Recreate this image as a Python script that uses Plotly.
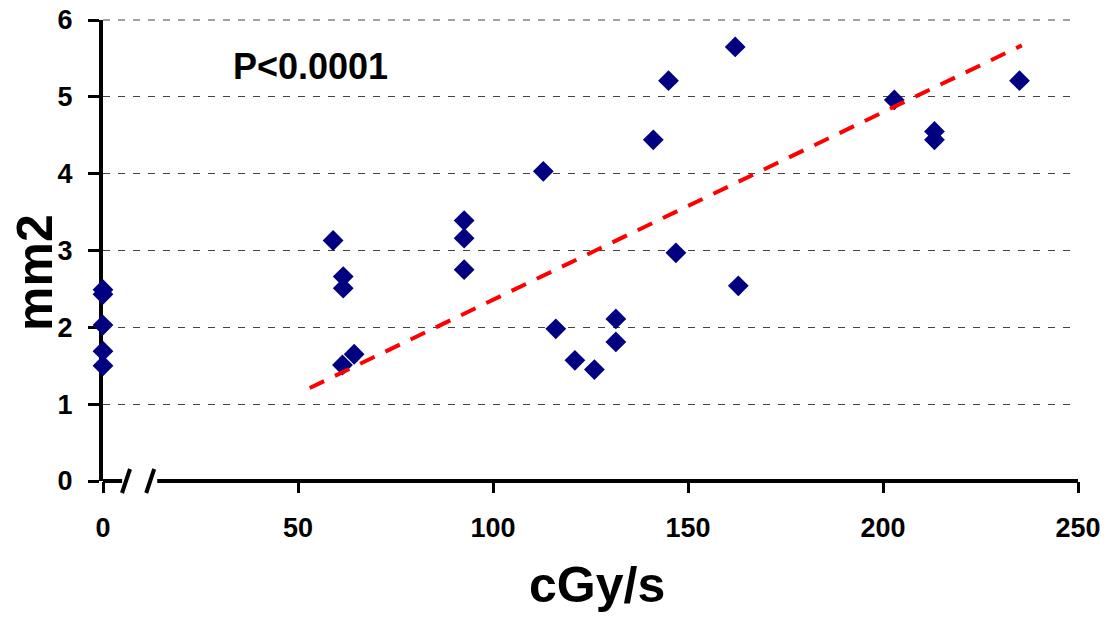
import plotly.graph_objects as go

# ---- data ----
dose_rate = [0, 0, 0, 0, 0,
             59.0, 61.6, 61.6, 61.4, 64.4,
             92.6, 92.6, 92.6, 112.9, 116.1, 121.0, 126.0,
             131.5, 131.5, 141.1, 145.0, 146.9, 162.1, 162.9,
             202.9, 213.2, 213.2, 235.0]
area_mm2 = [2.49, 2.43, 2.03, 1.69, 1.50,
            3.13, 2.66, 2.51, 1.51, 1.65,
            3.39, 3.16, 2.75, 4.03, 1.98, 1.57, 1.45,
            2.11, 1.81, 4.44, 5.21, 2.97, 5.65, 2.54,
            4.96, 4.55, 4.44, 5.21]
trend_x = [53.0, 235.6]
trend_y = [1.21, 5.67]

x_ticks = [0, 50, 100, 150, 200, 250]
y_ticks = [0, 1, 2, 3, 4, 5, 6]
x_range = [0, 250]
y_range = [0, 6]

# axis break (in x data units)
break_end = 4.9
break_start = 13.9
slash_x = [5.9, 12.1]

FONT = "Liberation Sans, Arial, sans-serif"
GRID = "#444444"

# page body has an 8px margin; shift the layout so the plot lands where the reference has it
L, T, PW, PH = 95, 12, 975, 461


def xp(v):
    """x data value -> paper fraction"""
    return (v - x_range[0]) / (x_range[1] - x_range[0])


def yp(v):
    return (v - y_range[0]) / (y_range[1] - y_range[0])


fig = go.Figure()
fig.add_trace(go.Scatter(
    x=dose_rate, y=area_mm2, mode="markers",
    marker=dict(symbol="diamond", size=16, color="#000080", line=dict(width=0)),
    cliponaxis=False, showlegend=False))
fig.add_trace(go.Scatter(
    x=trend_x, y=trend_y, mode="lines",
    line=dict(color="#FF0000", width=4, dash="16px,12px"),
    showlegend=False))

shapes = []
# top gridline (plotly omits the one at the range edge)
shapes.append(dict(type="line", xref="paper", yref="paper", x0=0, x1=1,
                   y0=yp(y_ticks[-1]), y1=yp(y_ticks[-1]),
                   line=dict(color=GRID, width=1, dash="7px,8px"), layer="below"))
# broken x axis line
shapes.append(dict(type="line", xref="paper", yref="paper", x0=xp(break_end), x1=xp(break_start),
                   y0=0, y1=0, line=dict(color="white", width=5), layer="above"))
for a, b in [(x_range[0], break_end), (break_start, x_range[1])]:
    shapes.append(dict(type="line", xref="paper", yref="paper", x0=xp(a), x1=xp(b), y0=0, y1=0,
                       line=dict(color="black", width=4), layer="above"))
for sx in slash_x:
    shapes.append(dict(type="line", xref="paper", yref="paper", xsizemode="pixel",
                       ysizemode="pixel", xanchor=xp(sx), yanchor=0,
                       x0=-4, x1=4, y0=-12, y1=12,
                       line=dict(color="black", width=4), layer="above"))


def px_x(p):
    return (p - 103) / PW


def px_y(p):
    return (481 - p) / PH


fig.update_layout(
    width=1112, height=618,
    margin=dict(l=L, r=1112 - L - PW, t=T, b=618 - T - PH, autoexpand=False),
    paper_bgcolor="white", plot_bgcolor="white",
    font=dict(family=FONT, color="black"),
    shapes=shapes,
    xaxis=dict(range=x_range, tickvals=x_ticks, ticktext=[str(v) for v in x_ticks],
               showline=False, showgrid=False, zeroline=False, automargin=False,
               ticks="outside", ticklen=11, tickwidth=3, tickcolor="black",
               ticklabelstandoff=12, ticklabeloverflow="allow",
               tickfont=dict(family=FONT, size=27, color="black", weight="bold")),
    yaxis=dict(range=y_range, tickvals=y_ticks, ticktext=[str(v) for v in y_ticks],
               showline=True, linewidth=4, linecolor="black", layer="below traces",
               showgrid=True, gridcolor=GRID, gridwidth=1, griddash="7px,8px",
               zeroline=False, automargin=False,
               ticks="outside", ticklen=11, tickwidth=3, tickcolor="black",
               ticklabelstandoff=10, ticklabeloverflow="allow",
               tickfont=dict(family=FONT, size=27, color="black", weight="bold")),
    annotations=[
        dict(text="<b>P<0.0001</b>", xref="paper", yref="paper",
             x=px_x(310), y=px_y(66), xanchor="center", yanchor="middle",
             showarrow=False, font=dict(family=FONT, size=36, color="black")),
        dict(text="<b>cGy/s</b>", xref="paper", yref="paper",
             x=px_x(597), y=px_y(585), xanchor="center", yanchor="middle",
             showarrow=False, font=dict(family=FONT, size=50, color="black")),
        dict(text="<b>mm2</b>", xref="paper", yref="paper", textangle=-90,
             x=px_x(35), y=px_y(273), xanchor="center", yanchor="middle",
             showarrow=False, font=dict(family=FONT, size=50, color="black")),
    ],
)

fig.write_html("out.html")
